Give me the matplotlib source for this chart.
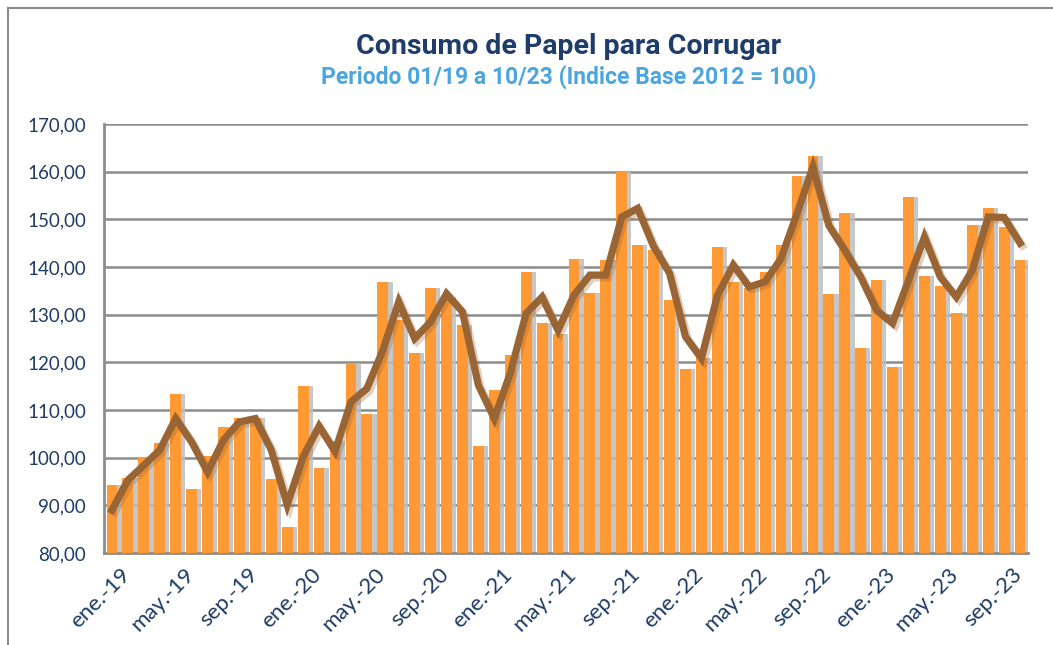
import numpy as np
import matplotlib.pyplot as plt
import matplotlib.patheffects as pe
import matplotlib.transforms as mtransforms

# monthly index, ene-19 .. oct-23
consumo = [94.3, 95.8, 100.2, 103.0, 113.3, 93.5, 100.4, 106.4, 108.4, 108.3, 95.5, 85.5,
           115.0, 97.8, 103.6, 119.8, 109.1, 136.9, 128.8, 122.0, 135.5, 133.7, 127.8, 102.4,
           114.3, 121.5, 139.0, 128.2, 125.9, 141.6, 134.6, 141.4, 159.9, 144.6, 143.5, 133.0,
           118.7, 121.0, 144.1, 136.9, 135.5, 139.0, 144.6, 159.1, 163.2, 134.4, 151.4, 123.1,
           137.2, 119.1, 154.6, 138.1, 136.0, 130.3, 148.9, 152.3, 148.4, 141.4]
tendencia = [89.0, 95.3, 98.4, 101.6, 108.2, 103.3, 97.0, 103.7, 107.5, 108.2, 101.6, 90.1,
             100.2, 106.6, 101.3, 111.7, 114.5, 122.5, 132.7, 125.0, 128.5, 134.4, 130.6, 115.2,
             108.2, 117.7, 130.3, 133.7, 126.7, 134.1, 138.3, 138.3, 150.5, 152.3, 144.3, 138.7,
             125.4, 120.8, 134.0, 140.4, 135.8, 136.9, 141.8, 151.2, 161.0, 148.7, 143.5, 137.9,
             130.9, 128.2, 137.2, 146.3, 137.9, 133.7, 139.3, 150.5, 150.4, 145.0]
meses = ["ene.", "feb.", "mar.", "abr.", "may.", "jun.", "jul.", "ago.", "sep.", "oct.", "nov.", "dic."]
etiquetas = [f"{meses[i % 12]}-{19 + i // 12}" for i in range(len(consumo))]

x = np.arange(len(consumo))

fig = plt.figure(figsize=(10.53, 6.45), dpi=100)
ax = fig.add_axes([104/1053, 1 - 553/645, (1028 - 104)/1053, (553 - 124)/645])

# shadow + bars
ax.bar(x + 0.27, np.array(consumo) - 80, bottom=80, width=0.68, color="#bdbdbd", alpha=0.85, zorder=2)
ax.bar(x, np.array(consumo) - 80, bottom=80, width=0.68, color="#ff9933", zorder=3)

ax.plot(x, tendencia, color="#9a6535", lw=5.2, solid_joinstyle="miter", zorder=4,
        path_effects=[pe.SimpleLineShadow(offset=(2, -2), shadow_color="#9a6535", alpha=0.3),
                      pe.Normal()])

ax.set_ylim(80, 170)
ax.set_xlim(-0.5, len(consumo) - 0.5)
ax.set_yticks(np.arange(80, 171, 10))
ax.set_yticklabels([f"{v:.2f}".replace(".", ",") for v in np.arange(80, 171, 10)])
ax.yaxis.grid(True, color="#8c8c8c", lw=1.8, zorder=1)
ax.set_axisbelow(True)

ticks = x[::4]
ax.set_xticks(ticks)
ax.set_xticklabels([etiquetas[i] for i in ticks], rotation=45, ha="right", rotation_mode="anchor")

for s in ["top", "right"]:
    ax.spines[s].set_visible(False)
for s in ["left", "bottom"]:
    ax.spines[s].set_color("#8c8c8c")
    ax.spines[s].set_linewidth(2)
ax.tick_params(length=0, labelsize=13.5, colors="#1f3c64")
ax.tick_params(axis="y", pad=13)
ax.tick_params(axis="x", pad=8, labelsize=16)
shift = mtransforms.ScaledTranslation(8/100, 0, fig.dpi_scale_trans)
for t in ax.get_xticklabels():
    t.set_transform(t.get_transform() + shift)
for t in ax.get_xticklabels() + ax.get_yticklabels():
    t.set_fontfamily("Lato")

fig.text(0.54, 1 - 46/645, "Consumo de Papel para Corrugar", ha="center", va="center",
         fontsize=20.5, fontweight="bold", color="#1f3d6b", family="Roboto")
fig.text(0.54, 1 - 77/645, "Periodo 01/19 a 10/23 (Indice Base 2012 = 100)", ha="center", va="center",
         fontsize=16.5, fontweight="bold", color="#4ba6df", family="Roboto")

# frame lines (left and top)
fig.add_artist(plt.Line2D([8/1053, 8/1053], [0, 1 - 8/645], color="#8c8c8c", lw=1.5))
fig.add_artist(plt.Line2D([8/1053, 1], [1 - 8/645, 1 - 8/645], color="#8c8c8c", lw=1.5))

fig.savefig("out.png", dpi=100)
